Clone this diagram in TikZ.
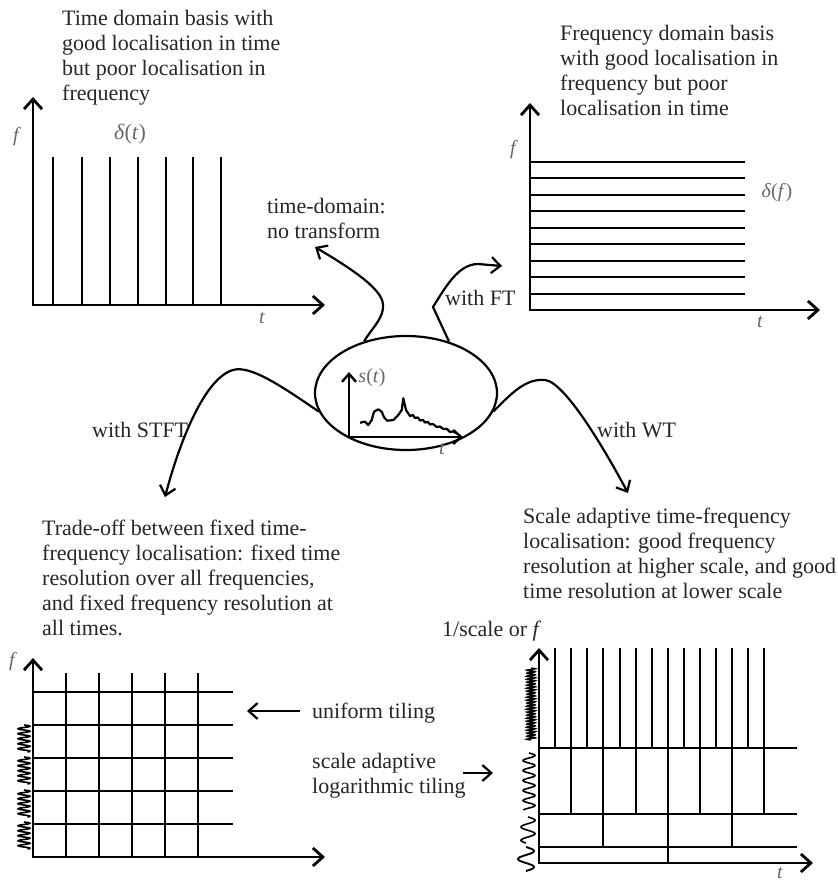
\documentclass[tikz,border=0pt]{standalone}
\usepackage{fontspec}
\setmainfont{Liberation Serif}
\usetikzlibrary{arrows.meta,shapes.geometric}
\begin{document}
\begin{tikzpicture}[x=1pt,y=-1pt,
  txt/.style={inner sep=0pt, align=left, anchor=north west, text=black!85, font=\fontsize{22}{25}\selectfont},
  onel/.style={inner sep=0pt, anchor=base west, text=black!85, font=\fontsize{22}{25}\selectfont},
  lab/.style={inner sep=0pt, text=black!60, font=\fontsize{20}{22}\selectfont},
  axes/.style={line width=2.8pt, {Straight Barb[length=10pt,width=18pt]}-{Straight Barb[length=10pt,width=18pt]}},
  saxes/.style={line width=2.4pt, {Straight Barb[length=8pt,width=14pt]}-{Straight Barb[length=8pt,width=14pt]}},
  gridl/.style={line width=2.7pt},
  thinl/.style={line width=1.7pt},
  curvy/.style={line width=2.2pt, -{Straight Barb[length=9pt,width=16pt]}},
  wig/.style={line width=1.6pt}
]
\useasboundingbox (0,0) rectangle (838,884);

% ---------- top-left: time domain ----------
\node[txt] (tdtext) at (62,10) {Time domain basis with\\good localisation in time\\but poor localisation in\\frequency};
\draw[axes] (33,97) -- (33,305) -- (325,305);
\foreach \x in {53,82,110,138,166} \draw[gridl] (\x,157) -- (\x,305);
\foreach \x in {193,221} \draw[thinl] (\x,157) -- (\x,305);
\node[lab] (tlf) at (17,137) {\textit{f}};
\node[lab] (tlt) at (262,318) {\textit{t}};
\node[lab, font=\fontsize{22}{24}\selectfont] (tld) at (130,134) {\textit{δ}(\textit{t})};

% ---------- top-right: frequency domain ----------
\node[txt] (fdtext) at (560,25) {Frequency domain basis\\with good localisation in\\frequency but poor\\localisation in time};
\draw[axes] (530,103) -- (530,310) -- (820,310);
\foreach \y in {162,178,195,211,228,244,261,277,294} \draw[gridl] (530,\y) -- (745,\y);
\node[lab] (trf) at (514,150) {\textit{f}};
\node[lab] (trt) at (760,322) {\textit{t}};
\node[lab] (trd) at (777,193) {\textit{δ}(\textit{f})};

% ---------- centre: signal ----------
\node[draw, ellipse, line width=2.2pt, minimum width=182pt, minimum height=114pt, inner sep=0pt] (sig) at (406,393) {};
\draw[saxes] (349,372) -- (349,437) -- (463,437);
\draw[line width=2.2pt, line join=round] plot coordinates {(360,422.7) (365,421.7) (368.3,425) (371.7,420) (374,411.7) (378.3,409.3) (381.7,411.7) (384,417.3) (387.3,420.7) (393.3,420) (398.3,415) (401.7,410) (403.3,398.3) (406,410) (410,416) (413,415) (415,418) (418,417.5) (420,420.5) (423,420) (425,422.5) (428,422) (430,424.5) (433,424) (436.7,427) (440,426.5) (443.3,429) (447,429) (450,432) (453,431.5) (456.7,433.3)};
\node[lab] (ss) at (372,378) {\textit{s}(\textit{t})};
\node[lab] (st) at (442,449) {\textit{t}};

% ---------- connectors ----------
\coordinate (tdend) at (315,247);
\coordinate (ftend) at (502,266);
\coordinate (stend) at (165,497);
\coordinate (wtend) at (628,493);
\node[txt] (tdlab) at (267,198) {time-domain:\\no transform};
\node[onel] (ftlab) at (445,305) {with FT};
\node[onel] (stlab) at (92,437) {with STFT};
\node[onel] (wtlab) at (597,437) {with WT};
\draw[curvy] (sig.129) .. controls (372,328) and (384,318) .. (383,305) .. controls (383,288) and (345,265) .. (tdend);
\draw[curvy] (sig.50) -- (433,307) .. controls (445,288) and (458,264) .. (478,264) -- (ftend);
\draw[curvy] (sig.192) .. controls (280,385) and (250,365) .. (233,370) .. controls (205,378) and (180,440) .. (stend);
\draw[curvy] (sig.348) .. controls (510,395) and (525,378) .. (545,380) .. controls (565,382) and (605,450) .. (wtend);

% ---------- bottom-left: STFT ----------
\node[txt] (sttext) at (42,520) {Trade-off between fixed time-\\frequency localisation: fixed time\\resolution over all frequencies,\\and fixed frequency resolution at\\all times.};
\draw[axes] (33,658) -- (33,857) -- (325,857);
\foreach \x in {66,99,132,165,198} \draw[gridl] (\x,673) -- (\x,857);
\foreach \y in {692,725,758,791,824} \draw[gridl] (33,\y) -- (233,\y);
\node[lab] (blf) at (13,662) {\textit{f}};
\foreach \y in {725,757,790,822} \draw[wig] plot[domain=0:27,samples=90,smooth] ({24+6*sin(\x*72)},{\y+\x});

% ---------- tiling labels ----------
\node[onel] (uni) at (312,718) {uniform tiling};
\coordinate (unitip) at (247,711);
\draw[line width=2.2pt, -{Straight Barb[length=9pt,width=16pt]}] (300,711) -- (unitip);
\node[txt] (logt) at (312,753) {scale adaptive\\logarithmic tiling};
\coordinate (logtip) at (493,773);
\draw[line width=2.2pt, -{Straight Barb[length=9pt,width=16pt]}] (logt.east |- logtip) ++(-3,0) -- (logtip);

% ---------- bottom-right: WT ----------
\node[txt] (wttext) at (523,508) {Scale adaptive time-frequency\\localisation: good frequency\\resolution at higher scale, and good\\time resolution at lower scale};
\node[onel] (brl) at (442,636) {1/scale or \textit{f}};
\draw[axes] (539,648) -- (539,863) -- (813,863);
\foreach \y in {748,814,847} \draw[gridl] (539,\y) -- (797,\y);
\foreach \k [evaluate=\k as \xx using {round(539+\k*16.1)}] in {1,...,14} \draw[gridl] (\xx,648) -- (\xx,748);
\foreach \k [evaluate=\k as \xx using {round(539+\k*16.1)}] in {2,4,...,14} \draw[gridl] (\xx,748) -- (\xx,814);
\foreach \k [evaluate=\k as \xx using {round(539+\k*16.1)}] in {4,8,12} \draw[gridl] (\xx,814) -- (\xx,847);
\draw[gridl] (668,847) -- (668,863);
\node[lab] (brt) at (780,873) {\textit{t}};
\draw[line width=1.4pt] plot[domain=0:72,samples=200,smooth] ({531+4.5*sin(\x*120)},{668+\x});
\draw[wig] plot[domain=0:57,samples=90,smooth] ({529+6*sin(\x*36)},{753+\x});
\draw[wig] plot[domain=0:26,samples=60,smooth] ({528+7*sin(\x*27)},{817+\x});
\draw[line width=1.9pt] plot[domain=0:24,samples=60,smooth] ({526+8*sin(\x*22.5)},{847+\x});
\end{tikzpicture}
\end{document}
